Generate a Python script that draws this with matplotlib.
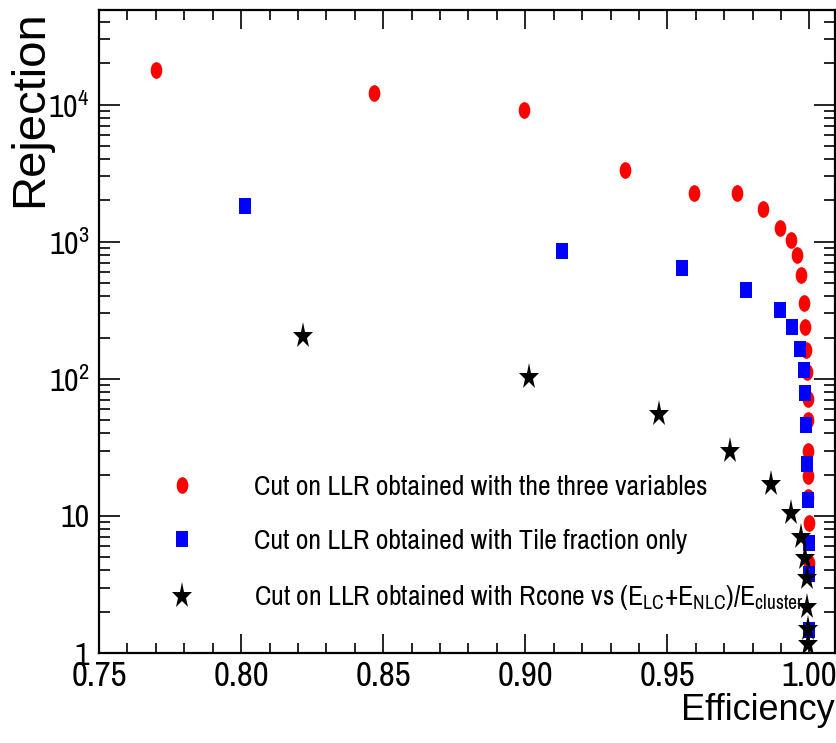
import matplotlib
matplotlib.use("Agg")
import matplotlib.pyplot as plt
from matplotlib import font_manager as fm
from matplotlib.markers import MarkerStyle
from matplotlib.transforms import Affine2D
from matplotlib.ticker import FixedLocator, FixedFormatter, MultipleLocator, LogLocator, NullFormatter

# --- data -------------------------------------------------------------
eff_three_vars = [0.7701, 0.8467, 0.8994, 0.9350, 0.9595, 0.9746, 0.9837, 0.9898,
                  0.9934, 0.9957, 0.9972, 0.9981, 0.9986, 0.9989, 0.9993, 0.9995,
                  0.9995, 0.9996, 0.9996, 0.9996, 0.9997, 0.9997]
rej_three_vars = [18000, 12100, 9090, 3315, 2266, 2279, 1733, 1250,
                  1034, 804, 568, 357, 240, 163, 113, 71.5,
                  50, 30, 19.4, 13.8, 8.9, 4.5]

eff_tile = [0.8014, 0.9129, 0.9552, 0.9777, 0.9898, 0.9940, 0.9967, 0.9980,
            0.9986, 0.9989, 0.9992, 0.9995, 0.9997, 0.9997, 0.9997]
rej_tile = [1832, 850, 643, 441, 319, 237, 165, 116,
            79, 46, 24, 13.1, 6.3, 3.8, 1.47]

eff_rcone = [0.8219, 0.9013, 0.9471, 0.9722, 0.9866, 0.9935, 0.9969, 0.9986,
             0.9991, 0.9992, 0.9996, 0.9996]
rej_rcone = [204, 104, 55.3, 29.8, 17.0, 10.5, 7.0, 4.9,
             3.5, 2.18, 1.50, 1.16]

labels = [
    "Cut on LLR obtained with the three variables",
    "Cut on LLR obtained with Tile fraction only",
    r"Cut on LLR obtained with Rcone vs (E$_{LC}$+E$_{NLC}$)/E$_{cluster}$",
]

x_ticks = [0.75, 0.80, 0.85, 0.90, 0.95, 1.00]
x_tick_labels = ["0.75", "0.80", "0.85", "0.90", "0.95", "1.00"]
y_ticks = [1, 10, 100, 1000, 10000]
y_tick_labels = ["1", "10", r"$10^{2}$", r"$10^{3}$", r"$10^{4}$"]

# --- fonts: prefer a condensed sans if one is available ----------------
installed = {f.name for f in fm.fontManager.ttflist}
condensed = sorted(n for n in installed if "Narrow" in n or "Condensed" in n)
condensed = [n for n in condensed if "Mono" not in n and "Serif" not in n]
if condensed:
    body_font = condensed[0]
    legend_size, xtick_size, ytick_size = 20, 25, 23
else:
    body_font = "Liberation Sans"
    legend_size, xtick_size, ytick_size = 16, 22, 20

plt.rcParams["font.family"] = [body_font, "DejaVu Sans"]
plt.rcParams["mathtext.fontset"] = "custom"
plt.rcParams["mathtext.rm"] = body_font
plt.rcParams["mathtext.it"] = body_font
plt.rcParams["mathtext.default"] = "regular"

# --- figure -----------------------------------------------------------
fig = plt.figure(figsize=(8.37, 7.43), dpi=100)
ax = fig.add_axes([0.1183, 0.1211, 0.8793, 0.8654])

squeeze = Affine2D().scale(0.70, 1.0)
m_circle = MarkerStyle("o", transform=squeeze)
m_square = MarkerStyle("s", transform=squeeze)
m_star = MarkerStyle("*", transform=Affine2D().scale(0.75, 1.0))

ax.plot(eff_three_vars, rej_three_vars, linestyle="none", marker=m_circle,
        markersize=12, color="#ff0000", markeredgewidth=0, label=labels[0], zorder=3)
ax.plot(eff_tile, rej_tile, linestyle="none", marker=m_square,
        markersize=12, color="#0000ff", markeredgewidth=0, label=labels[1], zorder=4)
ax.plot(eff_rcone, rej_rcone, linestyle="none", marker=m_star,
        markersize=19.5, color="black", markeredgewidth=0, label=labels[2], zorder=5)

ax.set_yscale("log")
ax.set_xlim(0.75, 1.009)
ax.set_ylim(1, 4.9e4)

ax.xaxis.set_major_locator(FixedLocator(x_ticks))
ax.xaxis.set_major_formatter(FixedFormatter(x_tick_labels))
ax.xaxis.set_minor_locator(MultipleLocator(0.01))
ax.yaxis.set_major_locator(FixedLocator(y_ticks))
ax.yaxis.set_major_formatter(FixedFormatter(y_tick_labels))
ax.yaxis.set_minor_locator(LogLocator(base=10, subs=range(2, 10), numticks=20))
ax.yaxis.set_minor_formatter(NullFormatter())

for s in ax.spines.values():
    s.set_linewidth(1.6)

ax.tick_params(axis="both", which="both", direction="in", top=True, right=True, width=1.2)
ax.tick_params(axis="x", which="major", length=14, labelsize=xtick_size, pad=5)
ax.tick_params(axis="x", which="minor", length=7)
ax.tick_params(axis="y", which="major", length=15, labelsize=ytick_size, pad=7)
ax.tick_params(axis="y", which="minor", length=8)

ax.set_xlabel("Efficiency", loc="right", fontsize=26, family=["Liberation Sans", "DejaVu Sans"])
ax.xaxis.set_label_coords(1.0, -0.062)
ax.set_ylabel("Rejection", loc="top", fontsize=34, family=["Liberation Sans", "DejaVu Sans"])
ax.yaxis.set_label_coords(-0.064, 1.0)

ax.legend(loc="upper left", bbox_to_anchor=(0.094, 0.277), frameon=False,
          fontsize=legend_size, handlelength=1.0, handletextpad=2.1, borderpad=0,
          borderaxespad=0, labelspacing=1.05, numpoints=1)

fig.savefig("out.png", dpi=100)
